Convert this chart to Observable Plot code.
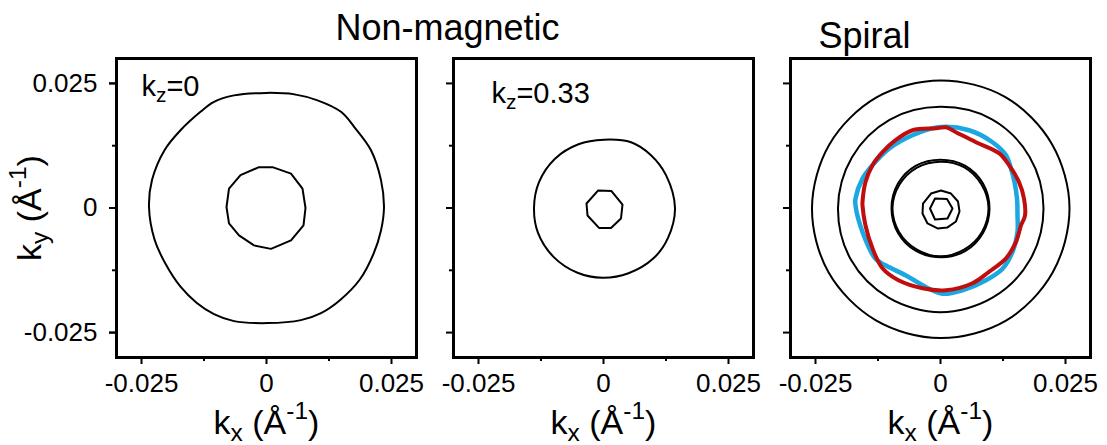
<!DOCTYPE html>
<html><head><meta charset="utf-8">
<script src="https://cdn.jsdelivr.net/npm/d3@7"></script>
<script src="https://cdn.jsdelivr.net/npm/@observablehq/plot@0.6"></script>
<style>
html,body{margin:0;padding:0;background:#fff;}
#chart{width:1107px;height:445px;}
#chart svg text{font-family:"Liberation Sans",Arial,Helvetica,sans-serif;}
</style></head><body><div id="chart"></div>
<script>
// ---- categories / labels ----
const panels = ["p1", "p2", "p3"];
const titleTexts = ["Non-magnetic", "Spiral"];
const kzTexts = ["k_{z}=0", "k_{z}=0.33"];
const xLabel = "k_{x} (Å^{-1})";
const yLabel = "k_{y} (Å^{-1})";
const majorTicks = [-0.025, 0, 0.025];
const majorTickLabels = ["-0.025", "0", "0.025"];
const minorTicks = [-0.0125, 0.0125];

// ---- contours: [kx, ky] in Å^-1 ----
const p1Outer = [[0.0000,0.0231],[0.0056,0.0228],[0.0102,0.0216],[0.0149,0.0193],[0.0176,0.0162],[0.0209,0.0116],[0.0229,0.0056],[0.0235,0.0002],[0.0229,-0.0045],[0.0214,-0.0092],[0.0187,-0.0143],[0.0148,-0.0184],[0.0109,-0.0211],[0.0069,-0.0225],[0.0002,-0.0231],[-0.0065,-0.0227],[-0.0105,-0.0213],[-0.0140,-0.0190],[-0.0172,-0.0158],[-0.0202,-0.0112],[-0.0224,-0.0063],[-0.0235,0.0002],[-0.0229,0.0056],[-0.0204,0.0116],[-0.0172,0.0156],[-0.0132,0.0193],[-0.0105,0.0213],[-0.0065,0.0226]];
const p1Inner = [[0.0012,0.0082],[0.0049,0.0069],[0.0072,0.0039],[0.0078,0.0000],[0.0074,-0.0035],[0.0049,-0.0065],[0.0009,-0.0082],[-0.0025,-0.0075],[-0.0055,-0.0055],[-0.0075,-0.0031],[-0.0080,0.0002],[-0.0075,0.0039],[-0.0052,0.0066],[-0.0015,0.0082]];
const p2Outer = [[0.0001,0.0137],[0.0055,0.0132],[0.0095,0.0106],[0.0125,0.0066],[0.0143,0.0000],[0.0129,-0.0060],[0.0100,-0.0101],[0.0050,-0.0131],[-0.0002,-0.0140],[-0.0052,-0.0130],[-0.0100,-0.0098],[-0.0131,-0.0050],[-0.0139,0.0000],[-0.0129,0.0052],[-0.0097,0.0099],[-0.0050,0.0128]];
const p2Inner = [[-0.0011,0.0035],[0.0016,0.0034],[0.0038,0.0007],[0.0035,-0.0021],[0.0015,-0.0040],[-0.0009,-0.0040],[-0.0032,-0.0015],[-0.0034,0.0009]];
const p3Outer = [[0,0.0256],[0.0129,0.0223],[0.0223,0.0128],[0.0258,0],[0.0224,-0.0130],[0.0131,-0.0226],[0,-0.0261],[-0.0130,-0.0225],[-0.0224,-0.0129],[-0.0257,0],[-0.0222,0.0128],[-0.0128,0.0222]];
const p3Second = [[0,0.0203],[0.0103,0.0178],[0.0178,0.0103],[0.0206,0],[0.0179,-0.0104],[0.0104,-0.0180],[0,-0.0209],[-0.0104,-0.0180],[-0.0179,-0.0104],[-0.0205,0],[-0.0177,0.0102],[-0.0102,0.0177]];
const p3CoreA = [[0,0.0093],[0.0047,0.0082],[0.0082,0.0047],[0.0096,0],[0.0083,-0.0048],[0.0048,-0.0083],[0,-0.0097],[-0.0048,-0.0083],[-0.0083,-0.0048],[-0.0096,0],[-0.0082,0.0047],[-0.0047,0.0081]];
const p3CoreB = [[0,0.0097],[0.0049,0.0085],[0.0085,0.0049],[0.0098,-0.0002],[0.0085,-0.0050],[0.0050,-0.0086],[0.0002,-0.0099],[-0.0049,-0.0086],[-0.0085,-0.0050],[-0.0098,-0.0001],[-0.0085,0.0049],[-0.0049,0.0085]];
const p3Oct = [[-0.0019,0.0029],[0.0001,0.0035],[0.0021,0.0029],[0.0035,0.0013],[0.0038,-0.0007],[0.0031,-0.0027],[0.0014,-0.0039],[-0.0006,-0.0041],[-0.0026,-0.0031],[-0.0036,-0.0011],[-0.0035,0.0009]];
const p3Hex = [[-0.0011,0.0019],[0.0013,0.0018],[0.0024,-0.0001],[0.0014,-0.0021],[-0.0011,-0.0023],[-0.0021,-0.0001]];
const p3Blue = [[-0.0005,0.0162],[0.0057,0.0156],[0.0104,0.0132],[0.0131,0.0106],[0.0141,0.0079],[0.0148,0.0052],[0.0153,0.0019],[0.0154,-0.0015],[0.0154,-0.0048],[0.0144,-0.0088],[0.0124,-0.0122],[0.0091,-0.0145],[0.0044,-0.0165],[0.0004,-0.0172],[-0.0023,-0.0162],[-0.0070,-0.0135],[-0.0110,-0.0115],[-0.0130,-0.0102],[-0.0156,-0.0048],[-0.0170,0.0005],[-0.0170,0.0019],[-0.0156,0.0059],[-0.0136,0.0086],[-0.0103,0.0119],[-0.0056,0.0146]];
const p3Red = [[-0.0009,0.0160],[0.0011,0.0162],[0.0031,0.0152],[0.0071,0.0132],[0.0117,0.0110],[0.0137,0.0086],[0.0157,0.0052],[0.0167,0.0019],[0.0169,-0.0015],[0.0161,-0.0035],[0.0151,-0.0068],[0.0131,-0.0101],[0.0097,-0.0128],[0.0064,-0.0151],[0.0011,-0.0165],[-0.0036,-0.0161],[-0.0084,-0.0145],[-0.0116,-0.0121],[-0.0136,-0.0081],[-0.0150,-0.0035],[-0.0156,0.0005],[-0.0156,0.0012],[-0.0150,0.0052],[-0.0136,0.0086],[-0.0116,0.0112],[-0.0090,0.0136],[-0.0056,0.0156]];

// ---- build tables ----
const rows = (panel, id, pts) => pts.map(([kx, ky]) => ({panel, id, kx, ky}));
const smoothBlack = [...rows("p1","o",p1Outer), ...rows("p2","o",p2Outer), ...rows("p3","o",p3Outer), ...rows("p3","s",p3Second)];
const polyBlack = [...rows("p1","i",p1Inner), ...rows("p2","i",p2Inner), ...rows("p3","oct",p3Oct), ...rows("p3","hex",p3Hex)];
const coreBlack = [...rows("p3","a",p3CoreA), ...rows("p3","b",p3CoreB)];
const blueRows = rows("p3","blue",p3Blue);
const redRows = rows("p3","red",p3Red);
const titleRows = [{panel:"p1", t:titleTexts[0]}, {panel:"p3", t:titleTexts[1]}];
const fmt = d => majorTickLabels[majorTicks.indexOf(d)];

const chart = Plot.plot({
  width: 1107, height: 445,
  marginLeft: 116, marginRight: 17, marginTop: 58, marginBottom: 88,
  style: {fontFamily: "'Liberation Sans', Arial, sans-serif", fontSize: "26px", color: "black", background: "white", overflow: "visible"},
  fx: {domain: panels, paddingInner: 0.1098, paddingOuter: 0, axis: null, round: false},
  x: {domain: [-0.03, 0.03]},
  y: {domain: [-0.03, 0.03]},
  marks: [
    Plot.line(smoothBlack, {x:"kx", y:"ky", z:"id", fx:"panel", curve:"catmull-rom-closed", stroke:"black", strokeWidth:2}),
    Plot.line(polyBlack, {x:"kx", y:"ky", z:"id", fx:"panel", curve:"linear-closed", stroke:"black", strokeWidth:2}),
    Plot.line(coreBlack, {x:"kx", y:"ky", z:"id", fx:"panel", curve:"catmull-rom-closed", stroke:"black", strokeWidth:2}),
    Plot.line(blueRows, {x:"kx", y:"ky", fx:"panel", curve:"catmull-rom-closed", stroke:"#1ba7e1", strokeWidth:4.5}),
    Plot.line(redRows, {x:"kx", y:"ky", fx:"panel", curve:"catmull-rom-closed", stroke:"#c00d0d", strokeWidth:4}),
    Plot.frame({stroke:"black", strokeWidth:3}),
    Plot.axisX({ticks: majorTicks, tickFormat: fmt, tickSize: 7, tickPadding: 9, strokeWidth: 2, fontSize: 26, label: null}),
    Plot.axisX({ticks: minorTicks, tickFormat: () => "", tickSize: 4, strokeWidth: 2, label: null}),
    Plot.axisY({ticks: majorTicks, tickFormat: fmt, tickSize: 7, tickPadding: 12, strokeWidth: 2, fontSize: 26, label: null, facetAnchor: "left"}),
    Plot.axisY({ticks: majorTicks, tickFormat: () => "", tickSize: 7, strokeWidth: 2, label: null, facetAnchor: null}),
    Plot.axisY({ticks: minorTicks, tickFormat: () => "", tickSize: 4, strokeWidth: 2, label: null, facetAnchor: null}),
    Plot.text([titleRows[0]], {fx:"panel", text:"t", frameAnchor:"top-right", dx:31, dy:-19, textAnchor:"middle", lineAnchor:"bottom", fontSize:36}),
    Plot.text([titleRows[1]], {fx:"panel", text:"t", frameAnchor:"top", dx:-76, dy:-11, textAnchor:"middle", lineAnchor:"bottom", fontSize:36}),
    Plot.text([{panel:"p1", t:kzTexts[0]}], {fx:"panel", text:"t", frameAnchor:"top-left", dx:25, dy:37, textAnchor:"start", lineAnchor:"bottom", fontSize:29}),
    Plot.text([{panel:"p2", t:kzTexts[1]}], {fx:"panel", text:"t", frameAnchor:"top-left", dx:38, dy:44, textAnchor:"start", lineAnchor:"bottom", fontSize:29}),
    Plot.text(panels.map(p => ({panel:p})), {fx:"panel", text: () => xLabel, frameAnchor:"bottom", dy:76, textAnchor:"middle", lineAnchor:"bottom", fontSize:34}),
    Plot.text([{panel:"p1"}], {fx:"panel", text: () => yLabel, frameAnchor:"left", dx:-76, rotate:-90, textAnchor:"middle", lineAnchor:"bottom", fontSize:34})
  ]
});

// sub/superscripts as real tspans
chart.querySelectorAll("text").forEach(t => {
  const s = t.textContent;
  if (!/[_^]\{/.test(s)) return;
  const parts = s.split(/([_^])\{([^}]*)\}/);
  while (t.firstChild) t.removeChild(t.firstChild);
  const NS = "http://www.w3.org/2000/svg";
  const scale = 0.72;
  let pending = 0;
  for (let i = 0; i < parts.length; i++) {
    if (i % 3 === 0) {
      if (!parts[i]) continue;
      const ts = document.createElementNS(NS, "tspan");
      if (pending) ts.setAttribute("dy", pending + "em");
      pending = 0;
      ts.textContent = parts[i];
      t.appendChild(ts);
    } else if (i % 3 === 1) {
      const kind = parts[i], content = parts[i + 1];
      const ts = document.createElementNS(NS, "tspan");
      ts.setAttribute("font-size", (scale * 100) + "%");
      const shift = kind === "_" ? 0.22 : -0.42;
      ts.setAttribute("dy", ((shift + pending) / scale).toFixed(3) + "em");
      pending = -shift;
      ts.textContent = content;
      t.appendChild(ts);
      i++;
    }
  }
});

document.getElementById("chart").appendChild(chart);
</script>
</body></html>
